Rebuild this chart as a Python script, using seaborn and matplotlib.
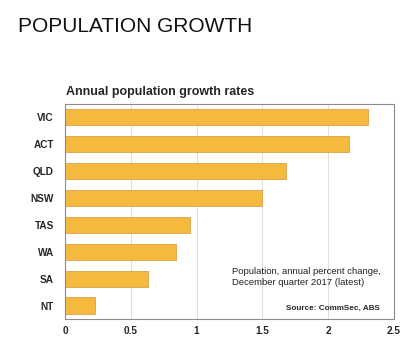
import matplotlib
matplotlib.use("Agg")
import matplotlib.pyplot as plt
import seaborn as sns
import pandas as pd

states = ["VIC", "ACT", "QLD", "NSW", "TAS", "WA", "SA", "NT"]
growth = [2.30, 2.16, 1.68, 1.50, 0.95, 0.84, 0.63, 0.23]
x_ticks = [0, 0.5, 1, 1.5, 2, 2.5]
x_labels = ["0", "0.5", "1", "1.5", "2", "2.5"]

sns.set_style("white")
plt.rcParams["font.family"] = ["Liberation Sans", "DejaVu Sans"]

df = pd.DataFrame({"state": states, "growth": growth})

fig = plt.figure(figsize=(4.18, 3.5), dpi=100)
ax = fig.add_axes([0.1555, 0.0886, 0.7871, 0.6143])

sns.barplot(data=df, x="growth", y="state", orient="h", color="#F5B93E",
            saturation=1, width=0.6, edgecolor="#D8A24A", linewidth=0.6, ax=ax)

ax.set_xlim(0, 2.5)
ax.set_ylim(7.5, -0.5)
ax.set_xticks(x_ticks)
ax.set_xticklabels(x_labels, fontsize=7.2, fontweight="bold")
ax.set_yticks(range(len(states)))
ax.set_yticklabels(states, fontsize=7.2, fontweight="bold")
ax.tick_params(axis="y", length=0, pad=8)
ax.tick_params(axis="x", length=0, pad=5)
ax.set_xlabel("")
ax.set_ylabel("")
ax.grid(axis="x", color="#DDDDDD", linewidth=0.7)
ax.set_axisbelow(True)
for s in ax.spines.values():
    s.set_color("#8C8C8C")
    s.set_linewidth(0.8)

fig.text(0.043, 0.925, "POPULATION GROWTH", fontsize=15, va="center", ha="left",
         color="#111111")
fig.text(0.158, 0.738, "Annual population growth rates", fontsize=9,
         fontweight="bold", va="center", ha="left")
ax.text(0.509, 0.195, "Population, annual percent change,\nDecember quarter 2017 (latest)",
        transform=ax.transAxes, fontsize=6.8, va="center", ha="left", color="#222222",
        linespacing=1.25)
ax.text(0.957, 0.05, "Source: CommSec, ABS", transform=ax.transAxes,
        fontsize=5.9, fontweight="bold", va="center", ha="right")

fig.savefig("out.png", dpi=100)
